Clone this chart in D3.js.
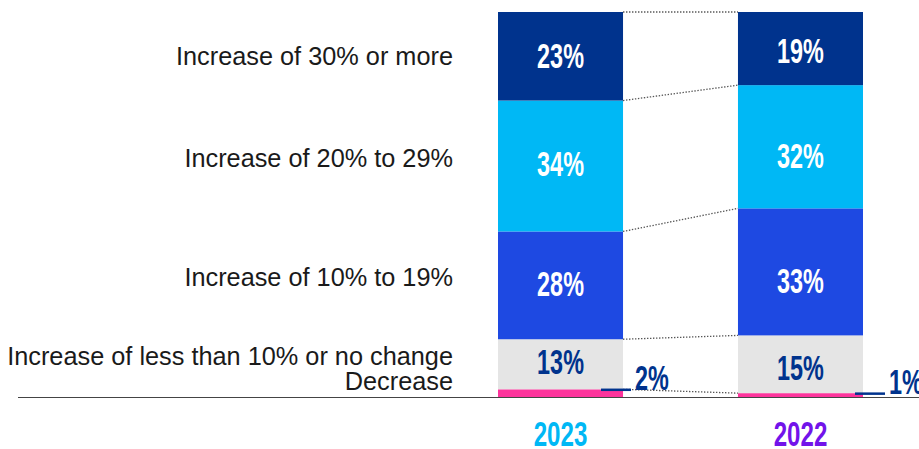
<!DOCTYPE html>
<html>
<head>
<meta charset="utf-8">
<script src="https://cdn.jsdelivr.net/npm/d3@7"></script>
<style>
body { margin: 0; background: #fff; }
</style>
</head>
<body>
<div id="chart"></div>
<script>
// stacked 100% bars, two years, categories listed bottom to top
var categories = ["Decrease", "Increase of less than 10% or no change", "Increase of 10% to 19%", "Increase of 20% to 29%", "Increase of 30% or more"];
var years = ["2023", "2022"];
var values2023 = [2, 13, 28, 34, 23];
var values2022 = [1, 15, 33, 32, 19];

var segColors = ["#fd349c", "#e5e5e5", "#1e49e2", "#00b8f5", "#00338d"];
var labelColors = ["#00338d", "#00338d", "#fff", "#fff", "#fff"];
var yearColors = ["#00b8f5", "#7213ea"];

var w = 919,
    h = 449;

var svg = d3.select("#chart").append("svg")
    .attr("width", w)
    .attr("height", h);

var x = d3.scaleBand()
    .domain(years)
    .range([498, 863])
    .paddingInner(0.479)
    .paddingOuter(0);

var y = d3.scaleLinear()
    .domain([0, 100])
    .range([397, 12]);

// build the stacked segments for each year
var series = [values2023, values2022];
var stacks = series.map(function(vals, j) {
    var acc = 0;
    return vals.map(function(v, i) {
        var s = { year: years[j], i: i, v: v, y0: acc, y1: acc + v };
        acc += v;
        return s;
    });
});

var condensed = 0.65;   // squeeze for the narrow bold figures
// labels in the original are not exactly centred in their segment
var valueNudge = { "2023": [0, -3, -2.5, -3, -1], "2022": [0, 2.5, 8.5, 8.5, 1.5] };

//dotted connectors between the two bars
var bounds = [];
stacks[0].forEach(function(s, i) {
    bounds.push({ a: s.y1, b: stacks[1][i].y1 });
});
svg.append("g").selectAll("line")
    .data(bounds)
    .enter().append("line")
    .attr("x1", x("2023") + x.bandwidth())
    .attr("x2", x("2022"))
    .attr("y1", function(d) { return y(d.a); })
    .attr("y2", function(d) { return y(d.b); })
    .attr("stroke", "#555")
    .attr("stroke-width", 1.3)
    .attr("stroke-dasharray", "1.4,1.6");

// bars
stacks.forEach(function(stack) {
    var g = svg.append("g");
    g.selectAll("rect")
        .data(stack)
        .enter().append("rect")
        .attr("x", function(d) { return x(d.year); })
        .attr("width", x.bandwidth())
        .attr("y", function(d) { return y(d.y1); })
        .attr("height", function(d) { return y(d.y0) - y(d.y1); })
        .attr("fill", function(d) { return segColors[d.i]; });

    // labels inside the segments (skip the tiny ones)
    g.selectAll("text")
        .data(stack.filter(function(d) { return d.v >= 5; }))
        .enter().append("text")
        .attr("transform", function(d) {
            var cy = y((d.y0 + d.y1) / 2) + valueNudge[d.year][d.i];
            return "translate(" + (x(d.year) + x.bandwidth() / 2) + "," + cy + ") scale(" + condensed + ",1)";
        })
        .attr("dy", "0.36em")
        .attr("text-anchor", "middle")
        .attr("font-family", "Liberation Sans, Arial, sans-serif")
        .attr("font-weight", "bold")
        .attr("font-size", 36)
        .attr("fill", function(d) { return labelColors[d.i]; })
        .text(function(d) { return d.v + "%"; });
});

// small segments get a leader line and an outside label
var leaderOffset = { "2023": [-22, 8], "2022": [-8, 22] };
stacks.forEach(function(stack) {
    stack.filter(function(d) { return d.v < 5; }).forEach(function(d) {
        var right = x(d.year) + x.bandwidth();
        var ly = y(d.y1) + 0.5;
        var off = leaderOffset[d.year];
        svg.append("line")
            .attr("x1", right + off[0])
            .attr("x2", right + off[1])
            .attr("y1", ly)
            .attr("y2", ly)
            .attr("stroke", "#00338d")
            .attr("stroke-width", 2.5);
        svg.append("text")
            .attr("transform", "translate(" + (right + off[1] + 4) + "," + (ly + 0.5) + ") scale(" + condensed + ",1)")
            .attr("font-family", "Liberation Sans, Arial, sans-serif")
            .attr("font-weight", "bold")
            .attr("font-size", 36)
            .attr("fill", "#00338d")
            .text(d.v + "%");
    });
});

// category labels on the left, lined up with the 2023 bar
var labelNudge = [-12, -8, -8, -8, 0];
svg.append("g").selectAll("text")
    .data(stacks[0])
    .enter().append("text")
    .attr("x", 453)
    .attr("y", function(d) { return y((d.y0 + d.y1) / 2) + labelNudge[d.i]; })
    .attr("dy", "0.36em")
    .attr("text-anchor", "end")
    .attr("font-family", "Liberation Sans, Arial, sans-serif")
    .attr("font-size", 25.3)
    .attr("fill", "#1a1a1a")
    .text(function(d) { return categories[d.i]; });

// baseline
svg.append("line")
    .attr("x1", 18)
    .attr("x2", w)
    .attr("y1", y(0) + 0.5)
    .attr("y2", y(0) + 0.5)
    .attr("stroke", "#444")
    .attr("stroke-width", 1.2);

// year labels
svg.append("g").selectAll("text")
    .data(years)
    .enter().append("text")
    .attr("transform", function(d) {
        return "translate(" + (x(d) + x.bandwidth() / 2) + ",446) scale(0.69,1)";
    })
    .attr("text-anchor", "middle")
    .attr("font-family", "Liberation Sans, Arial, sans-serif")
    .attr("font-weight", "bold")
    .attr("font-size", 35)
    .attr("fill", function(d, i) { return yearColors[i]; })
    .text(function(d) { return d; });
</script>
</body>
</html>
